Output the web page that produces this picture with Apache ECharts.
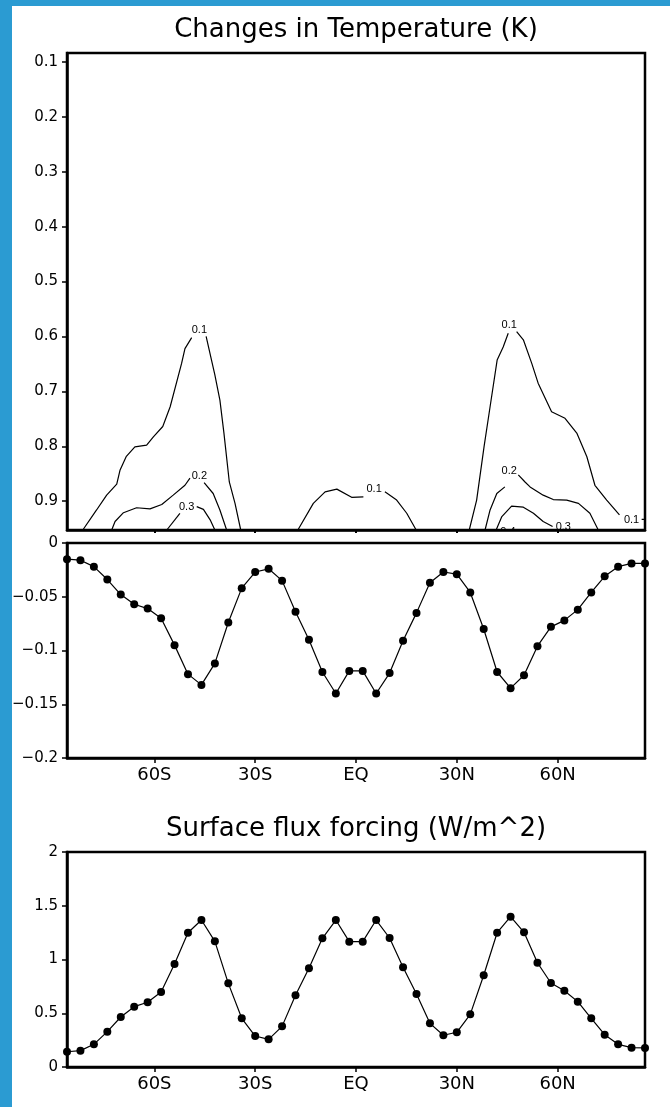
<!DOCTYPE html>
<html>
<head>
<meta charset="utf-8">
<title>Changes in Temperature / Surface flux forcing</title>
<script src="https://cdn.jsdelivr.net/npm/echarts@6/dist/echarts.min.js"></script>
<style>
  html, body { margin: 0; padding: 0; background: #fff; }
  #chart { width: 670px; height: 1107px; }
</style>
</head>
<body>
<div id="chart"></div>
<script>
// ---- data ----------------------------------------------------------------
// latitude grid of the zonal-mean profiles (degrees, south negative)
const lats = [-86, -82, -78, -74, -70, -66, -62, -58, -54, -50, -46, -42, -38, -34, -30,
  -26, -22, -18, -14, -10, -6, -2, 2, 6, 10, 14, 18, 22, 26, 30, 34, 38, 42, 46, 50,
  54, 58, 62, 66, 70, 74, 78, 82, 86];

// surface temperature change (K)
const tempChange = [-0.015, -0.016, -0.022, -0.034, -0.048, -0.057, -0.061, -0.070, -0.095, -0.122,
  -0.132, -0.112, -0.074, -0.042, -0.027, -0.024, -0.035, -0.064, -0.090, -0.120,
  -0.140, -0.119, -0.119, -0.140, -0.121, -0.091, -0.065, -0.037, -0.027, -0.029,
  -0.046, -0.080, -0.120, -0.135, -0.123, -0.096, -0.078, -0.072, -0.062, -0.046,
  -0.031, -0.022, -0.019, -0.019];

// surface flux forcing (W/m^2)
const fluxForcing = [0.142, 0.152, 0.211, 0.329, 0.465, 0.561, 0.602, 0.698, 0.958, 1.249,
  1.367, 1.169, 0.778, 0.453, 0.288, 0.257, 0.378, 0.667, 0.918, 1.197,
  1.367, 1.166, 1.166, 1.367, 1.200, 0.927, 0.679, 0.406, 0.295, 0.323,
  0.490, 0.853, 1.249, 1.398, 1.253, 0.970, 0.781, 0.710, 0.608, 0.453,
  0.301, 0.211, 0.180, 0.177];

// axis ticks
const latTicks = [-60, -30, 0, 30, 60];
const latTickLabels = ['60S', '30S', 'EQ', '30N', '60N'];
const sigmaTicks = [0.1, 0.2, 0.3, 0.4, 0.5, 0.6, 0.7, 0.8, 0.9];

// temperature-change contours in the latitude / sigma plane: [lat, sigma]
// (each line is broken where its label sits)
const sh01a = [[-81.3, 0.9525], [-77.2, 0.916], [-74.2, 0.889], [-71.2, 0.869], [-70.2, 0.843],
  [-68.4, 0.819], [-65.8, 0.801], [-62.3, 0.798], [-60.3, 0.783], [-57.5, 0.764], [-55.3, 0.728],
  [-51.9, 0.649], [-50.9, 0.622], [-48.9, 0.602]];
const sh01b = [[-44.6, 0.600], [-42.0, 0.670], [-40.5, 0.716], [-39.3, 0.776], [-37.7, 0.865],
  [-36.0, 0.904], [-34.3, 0.9525]];
const sh02a = [[-72.7, 0.9525], [-71.7, 0.937], [-69.2, 0.921], [-65.3, 0.912], [-61.3, 0.914],
  [-57.8, 0.906], [-54.4, 0.889], [-50.9, 0.871], [-49.4, 0.858]];
const sh02b = [[-45.2, 0.866], [-42.5, 0.886], [-40.5, 0.916], [-38.5, 0.9525]];
const sh03a = [[-56.3, 0.9525], [-52.4, 0.922]];
const sh03b = [[-47.4, 0.910], [-45.4, 0.915], [-43.4, 0.934], [-42.0, 0.9525]];
const eq01a = [[-17.3, 0.9525], [-12.7, 0.904], [-9.2, 0.883], [-5.7, 0.878], [-1.3, 0.893], [2.2, 0.892]];
const eq01b = [[8.6, 0.883], [12.1, 0.898], [15.1, 0.922], [17.9, 0.9525]];
const nh01a = [[33.7, 0.9525], [35.9, 0.898], [38.1, 0.801], [39.9, 0.728], [42.0, 0.643],
  [43.8, 0.619], [45.3, 0.594]];
const nh01b = [[47.8, 0.591], [49.8, 0.606], [52.3, 0.649], [54.2, 0.685], [58.2, 0.737],
  [62.2, 0.749], [65.7, 0.776], [68.7, 0.819], [71.1, 0.871], [74.6, 0.898], [78.4, 0.925]];
const nh01c = [[85.0, 0.933], [86.0, 0.933]];
const nh02a = [[38.4, 0.9525], [39.9, 0.916], [41.9, 0.886], [44.3, 0.874]];
const nh02b = [[48.3, 0.852], [50.3, 0.865], [51.8, 0.874], [55.7, 0.889], [58.7, 0.897],
  [62.7, 0.898], [66.2, 0.904], [69.6, 0.922], [72.1, 0.9525]];
const nh03a = [[41.7, 0.9525], [43.4, 0.928], [46.3, 0.909], [49.8, 0.911], [52.8, 0.922],
  [55.7, 0.937], [58.5, 0.946]];

// contour labels: [lat, sigma, text]
const contourLabels = [
  [-46.6, 0.589, '0.1'], [-46.6, 0.854, '0.2'], [-50.4, 0.910, '0.3'],
  [5.4, 0.878, '0.1'],
  [45.6, 0.579, '0.1'], [45.6, 0.845, '0.2'], [61.7, 0.947, '0.3'], [45.2, 0.9565, '0.4'],
  [82.0, 0.934, '0.1']
];

// ---- chart -----------------------------------------------------------------
const FONT = 'DejaVu Sans';
const INK = '#000';
const contourSegments = [sh01a, sh01b, sh02a, sh02b, sh03a, sh03b, eq01a, eq01b,
  nh01a, nh01b, nh01c, nh02a, nh02b, nh03a];

function latAxis(gridIndex, withLabels) {
  return {
    type: 'value', gridIndex: gridIndex, min: -86, max: 86,
    axisLine: { show: true, onZero: false, lineStyle: { color: INK, width: 2.5 } },
    axisTick: {
      show: true, inside: false, length: withLabels ? 5 : 3, customValues: latTicks,
      lineStyle: { color: INK, width: withLabels ? 1.5 : 2 }
    },
    axisLabel: {
      show: withLabels, customValues: latTicks, margin: 8,
      formatter: v => latTickLabels[latTicks.indexOf(v)],
      fontFamily: FONT, fontSize: 18, color: INK
    },
    splitLine: { show: false }
  };
}

function valueAxis(gridIndex, extra, formatter) {
  return Object.assign({
    type: 'value', gridIndex: gridIndex,
    axisLine: { show: true, onZero: false, lineStyle: { color: INK, width: 2.5 } },
    axisTick: { show: true, inside: false, length: 5, lineStyle: { color: INK, width: 1.5 } },
    axisLabel: { margin: 9, fontFamily: FONT, fontSize: 15, color: INK, formatter: formatter },
    splitLine: { show: false }
  }, extra);
}

const minusSign = v => {
  const s = String(+v.toFixed(2));
  return s.replace('-', '\u2212');
};

const gridStyle = { show: true, borderColor: INK, borderWidth: 2.5, left: 67, right: 25 };

const option = {
  backgroundColor: '#fff',
  animation: false,
  title: [
    {
      text: 'Changes in Temperature (K)', left: 356, top: 17, textAlign: 'center', padding: 0,
      textStyle: { fontFamily: FONT, fontSize: 26, fontWeight: 'normal', color: INK }
    },
    {
      text: 'Surface flux forcing (W/m^2)', left: 356, top: 816, textAlign: 'center', padding: 0,
      textStyle: { fontFamily: FONT, fontSize: 26, fontWeight: 'normal', color: INK }
    }
  ],
  graphic: [
    { type: 'rect', silent: true, shape: { x: 0, y: 0, width: 12, height: 1107 }, style: { fill: '#2b9bd2' } },
    { type: 'rect', silent: true, shape: { x: 0, y: 0, width: 670, height: 6 }, style: { fill: '#2b9bd2' } }
  ],
  grid: [
    Object.assign({ top: 53, height: 477 }, gridStyle),
    Object.assign({ top: 543, height: 215 }, gridStyle),
    Object.assign({ top: 852, height: 215 }, gridStyle)
  ],
  xAxis: [latAxis(0, false), latAxis(1, true), latAxis(2, true)],
  yAxis: [
    (function () {
      const ax = valueAxis(0, { inverse: true, min: 0.0836, max: 0.9525 }, v => v.toFixed(1));
      ax.axisTick.customValues = sigmaTicks;
      ax.axisLabel.customValues = sigmaTicks;
      return ax;
    })(),
    valueAxis(1, { min: -0.2, max: 0, interval: 0.05 }, minusSign),
    valueAxis(2, { min: 0, max: 2, interval: 0.5 }, v => String(+v.toFixed(2)))
  ],
  series: contourSegments.map(seg => ({
    type: 'line', xAxisIndex: 0, yAxisIndex: 0, data: seg,
    showSymbol: false, symbol: 'none', silent: true, clip: true,
    lineStyle: { color: INK, width: 1.2 }
  })).concat([
    {
      type: 'custom', xAxisIndex: 0, yAxisIndex: 0, clip: true, silent: true,
      data: contourLabels.map(d => [d[0], d[1]]),
      renderItem: function (params, api) {
        const p = api.coord([api.value(0), api.value(1)]);
        return {
          type: 'text', x: p[0], y: p[1],
          style: {
            text: contourLabels[params.dataIndex][2], fill: INK,
            font: '11px "Liberation Sans"', align: 'center', verticalAlign: 'middle'
          }
        };
      }
    },
    {
      type: 'line', xAxisIndex: 1, yAxisIndex: 1,
      data: lats.map((la, i) => [la, tempChange[i]]),
      symbol: 'circle', symbolSize: 8, clip: false,
      itemStyle: { color: INK }, lineStyle: { color: INK, width: 1.2 }
    },
    {
      type: 'line', xAxisIndex: 2, yAxisIndex: 2,
      data: lats.map((la, i) => [la, fluxForcing[i]]),
      symbol: 'circle', symbolSize: 8, clip: false,
      itemStyle: { color: INK }, lineStyle: { color: INK, width: 1.2 }
    }
  ])
};

const chart = echarts.init(document.getElementById('chart'), null, { renderer: 'canvas' });
chart.setOption(option);
</script>
</body>
</html>
